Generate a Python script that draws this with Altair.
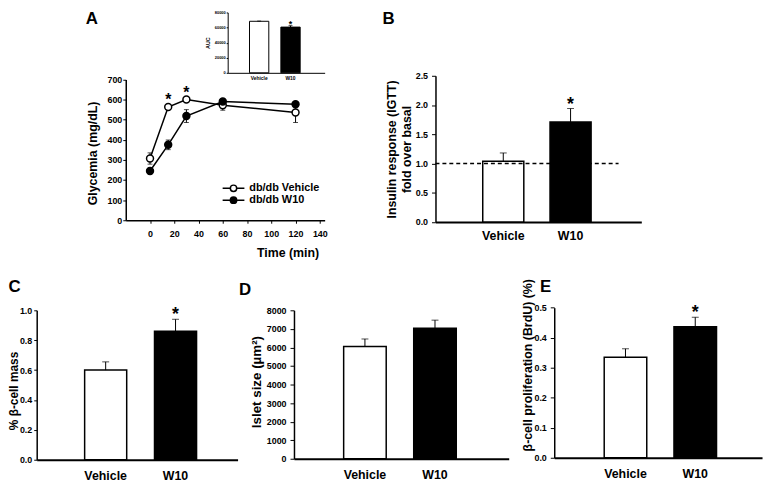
import altair as alt
import pandas as pd

FONT = "Liberation Sans"
VIEW_W, VIEW_H = 766, 475

groups = ["Vehicle", "W10"]
fills = ["white", "black"]

# ---- Panel A: glucose tolerance test ----
time_min = [0, 15, 30, 60, 120]
time_ticks = [0, 20, 40, 60, 80, 100, 120, 140]
glyc_ticks = [0, 100, 200, 300, 400, 500, 600, 700]
series_names = ["db/db Vehicle", "db/db W10"]
glyc_vehicle = [307, 563, 600, 572, 536]
glyc_vehicle_sem = [28, 12, 8, 25, 50]
glyc_w10 = [245, 375, 518, 590, 577]
glyc_w10_sem = [14, 24, 32, 10, 10]
glyc_sig_times = [15, 30]

# ---- Inset: AUC ----
auc_values = [68300, 60600]
auc_sem = [300, 1900]
auc_sig = [False, True]
auc_ticks = [0, 20000, 40000, 60000, 80000]

# ---- Panel B: insulin response ----
insulin_values = [1.04, 1.71]
insulin_sem = [0.14, 0.23]
insulin_sig = [False, True]
insulin_ticks = [0.0, 0.5, 1.0, 1.5, 2.0, 2.5]
insulin_basal = [1.0]

# ---- Panel C: beta-cell mass ----
mass_values = [0.60, 0.86]
mass_sem = [0.055, 0.08]
mass_sig = [False, True]
mass_ticks = [0.0, 0.2, 0.4, 0.6, 0.8, 1.0]

# ---- Panel D: islet size ----
islet_values = [6050, 7035]
islet_sem = [405, 435]
islet_sig = [False, False]
islet_ticks = [0, 1000, 2000, 3000, 4000, 5000, 6000, 7000, 8000]

# ---- Panel E: proliferation ----
brdu_values = [0.335, 0.436]
brdu_sem = [0.028, 0.032]
brdu_sig = [False, True]
brdu_ticks = [0.0, 0.1, 0.2, 0.3, 0.4, 0.5]


def band_scale(xr, c0, c1, bw):
    W = xr[1] - xr[0]
    step = c1 - c0
    pi = 1 - bw / step
    outer = W - step * (2 - pi)
    return alt.Scale(domain=groups, range=list(xr), paddingInner=pi,
                     paddingOuter=outer / (2 * step),
                     align=(c0 - bw / 2) / outer)


def letter_kw(letter, lx, ly, axis_y, size=17):
    if letter is None:
        return dict(title=None)
    return dict(title=letter, titleX=lx, titleY=ly - axis_y, titleAlign="left",
                titleAngle=0, titleBaseline="alphabetic", titleFontSize=size)


def bar_panel(values, sems, sig, ticks, fmt, ytitle, xr, yr, centers, bw,
              label_pad, title_x, title_y, letter=None, lx=0, ly=0,
              cat_font=12.5, tick_font=9, title_font=12.5, star_font=18,
              ydomain_w=1.5, xdomain_w=2, cap=7, bar_stroke=1.5,
              tick_size=4, ylabel_pad=4, star_dy=1, line_height=None,
              extra=None):
    df = pd.DataFrame({
        "group": groups,
        "value": values,
        "top": [v + s for v, s in zip(values, sems)],
        "sig": ["*" if s else "" for s in sig],
    })
    base = alt.Chart(df)
    x = alt.X("group:N", sort=groups, scale=band_scale(xr, centers[0], centers[1], bw),
              axis=alt.Axis(orient="bottom", offset=yr[0] - VIEW_H, labelAngle=0,
                            ticks=False, tickSize=0, labelFontSize=cat_font,
                            labelPadding=label_pad, domainWidth=xdomain_w,
                            **letter_kw(letter, lx, ly, yr[0])))
    axis_kw = dict(orient="left", offset=-xr[0], values=ticks, format=fmt, title=ytitle,
                   titleX=title_x, titleY=title_y, titleAngle=270,
                   titleBaseline="alphabetic", titleAlign="center",
                   titleFontSize=title_font, labelFontSize=tick_font,
                   tickSize=tick_size, labelPadding=ylabel_pad,
                   domainWidth=ydomain_w, tickWidth=1)
    if line_height is not None:
        axis_kw["titleLineHeight"] = line_height
    y = alt.Y("value:Q",
              scale=alt.Scale(domain=[ticks[0], ticks[-1]], range=list(yr), nice=False, zero=True),
              axis=alt.Axis(**axis_kw))
    bars = base.mark_bar(stroke="black", strokeWidth=bar_stroke).encode(
        x=x, y=y,
        fill=alt.Fill("group:N", scale=alt.Scale(domain=groups, range=fills), legend=None))
    err = base.mark_rule(color="black", strokeWidth=1).encode(
        x="group:N", y="value:Q", y2="top:Q")
    caps = base.mark_tick(color="black", orient="horizontal", size=cap, thickness=1).encode(
        x="group:N", y="top:Q")
    stars = base.mark_text(font=FONT, fontSize=star_font, fontWeight="bold",
                           baseline="alphabetic", dy=star_dy, color="black").encode(
        x="group:N", y="top:Q", text="sig:N")
    layers = [bars, err, caps, stars] + (extra or [])
    return alt.layer(*layers)


# ---------- Panel A main ----------
A_XR = [119, 320]
A_YR = [212, 69.7]
dfA = pd.DataFrame({
    "time": time_min * 2,
    "series": [series_names[0]] * len(time_min) + [series_names[1]] * len(time_min),
    "glyc": glyc_vehicle + glyc_w10,
    "sem": glyc_vehicle_sem + glyc_w10_sem,
})
dfA["lo"] = dfA["glyc"] - dfA["sem"]
dfA["hi"] = dfA["glyc"] + dfA["sem"]
baseA = alt.Chart(dfA)

xA = alt.X("time:Q", scale=alt.Scale(domain=[-20, 144], range=A_XR, nice=False, zero=False),
           axis=alt.Axis(orient="bottom", offset=A_YR[0] - VIEW_H, values=time_ticks,
                         format="d", title="Time (min)",
                         titleX=314, titleY=37, titleAlign="right", titleAngle=0,
                         titleBaseline="alphabetic", titleFontSize=12.5,
                         tickSize=3, labelPadding=6, labelFontSize=9,
                         domainWidth=1.5, tickWidth=1))
yA_lo = alt.Y("lo:Q", scale=alt.Scale(domain=[0, 700], range=A_YR, nice=False),
              axis=alt.Axis(orient="left", offset=-A_XR[0], values=glyc_ticks, format="d",
                            title="Glycemia (mg/dL)", titleX=-30, titleY=144,
                            titleAngle=270, titleAlign="center",
                            titleBaseline="alphabetic", titleFontSize=12.5,
                            tickSize=3, labelPadding=1, labelFontSize=9,
                            domainWidth=1.5, tickWidth=1))

legend_symbol = ("M-3.05,0L-0.89,0M0.89,0L3.05,0"
                 "M0.89,0A0.89,0.89,0,1,1,-0.89,0A0.89,0.89,0,1,1,0.89,0Z")

errA = baseA.mark_rule(color="black", strokeWidth=1).encode(x=xA, y=yA_lo, y2="hi:Q")
capLo = baseA.mark_tick(orient="horizontal", size=5, thickness=1, color="black").encode(
    x="time:Q", y="lo:Q")
capHi = baseA.mark_tick(orient="horizontal", size=5, thickness=1, color="black").encode(
    x="time:Q", y="hi:Q")
lineA = baseA.mark_line(color="black", strokeWidth=1.5).encode(
    x="time:Q", y="glyc:Q", detail="series:N")
ptsA = baseA.mark_point(shape="circle", filled=True, size=49, stroke="black",
                        strokeWidth=1.5, opacity=1).encode(
    x="time:Q", y="glyc:Q",
    fill=alt.Fill("series:N", scale=alt.Scale(domain=series_names, range=fills),
                  legend=alt.Legend(title=None, orient="none", legendX=222.4, legendY=174.2,
                                    symbolType=legend_symbol, symbolSize=52,
                                    symbolStrokeColor="black", symbolStrokeWidth=1.5,
                                    labelFont=FONT, labelFontSize=11, labelFontWeight="bold",
                                    labelColor="black", labelOffset=10.4, rowPadding=-1,
                                    padding=0)))
dfStar = pd.DataFrame({"time": glyc_sig_times,
                       "glyc": [glyc_vehicle[time_min.index(t)] for t in glyc_sig_times],
                       "mark": ["*"] * len(glyc_sig_times)})
starsA = alt.Chart(dfStar).mark_text(font=FONT, fontSize=16, fontWeight="bold",
                                     baseline="alphabetic", dy=-2, color="black").encode(
    x="time:Q", y="glyc:Q", text="mark:N")

panel_A = alt.layer(errA, capLo, capHi, lineA, ptsA, starsA)

inset = bar_panel(auc_values, auc_sem, auc_sig, auc_ticks, "d", "AUC",
                  xr=[222, 320], yr=[63, 2], centers=(31.8, 63.5), bw=19.5, label_pad=3,
                  title_x=-18, title_y=32.5, letter="A", lx=78, ly=13,
                  cat_font=5, tick_font=4, title_font=5.5,
                  star_font=9, ydomain_w=1, xdomain_w=1, cap=4, bar_stroke=1,
                  tick_size=1.5, ylabel_pad=1, star_dy=1)

B_XR = [432, 640]
B_basal = alt.Chart(pd.DataFrame({"basal": insulin_basal})).mark_rule(
    color="black", strokeWidth=1.5, strokeDash=[4, 3]).encode(
    x=alt.value(B_XR[0]), x2=alt.value(B_XR[0] + 185), y="basal:Q")

panel_B = bar_panel(insulin_values, insulin_sem, insulin_sig, insulin_ticks, ".1f",
                    ["Insulin response (IGTT)", "fold over basal"],
                    xr=B_XR, yr=[213.7, 66], centers=(68.5, 136.5), bw=41.5,
                    label_pad=8, title_x=-40, title_y=140, line_height=15,
                    letter="B", lx=378, ly=13, extra=[B_basal])

panel_C = bar_panel(mass_values, mass_sem, mass_sig, mass_ticks, ".1f",
                    "% \u03b2-cell mass", xr=[29, 232], yr=[454, 303],
                    centers=(69.7, 140.3), bw=42.5, label_pad=10,
                    title_x=-19.5, title_y=384, title_font=12, tick_size=3, ylabel_pad=2,
                    letter="C", lx=0, ly=284)
panel_D = bar_panel(islet_values, islet_sem, islet_sig, islet_ticks, "d",
                    "Islet size (\u00b5m\u00b2)", xr=[289, 506], yr=[453, 303],
                    centers=(71.7, 142.5), bw=43, label_pad=10, title_font=13.5,
                    title_x=-34, title_y=375, letter="D", lx=233, ly=287)
panel_E = bar_panel(brdu_values, brdu_sem, brdu_sig, brdu_ticks, ".1f",
                    "\u03b2-cell proliferation (BrdU) (%)", xr=[552, 762], yr=[452, 300.3],
                    centers=(72, 142.5), bw=43, label_pad=10,
                    title_x=-23, title_y=358, letter="E", lx=537, ly=284)

chart = alt.layer(panel_A, inset, panel_B, panel_C, panel_D, panel_E).resolve_scale(
    x="independent", y="independent", fill="independent"
).resolve_axis(
    x="independent", y="independent"
).resolve_legend(
    fill="independent"
).properties(
    width=VIEW_W, height=VIEW_H, padding=0,
    autosize=alt.AutoSizeParams(type="none"),
    background="white",
).configure_view(strokeWidth=0).configure_axis(
    grid=False, labelFont=FONT, titleFont=FONT, labelFontWeight="bold",
    titleFontWeight="bold", labelColor="black", titleColor="black",
    domainColor="black", tickColor="black",
)

chart.save("out.html", embed_options={"renderer": "svg", "actions": False})
